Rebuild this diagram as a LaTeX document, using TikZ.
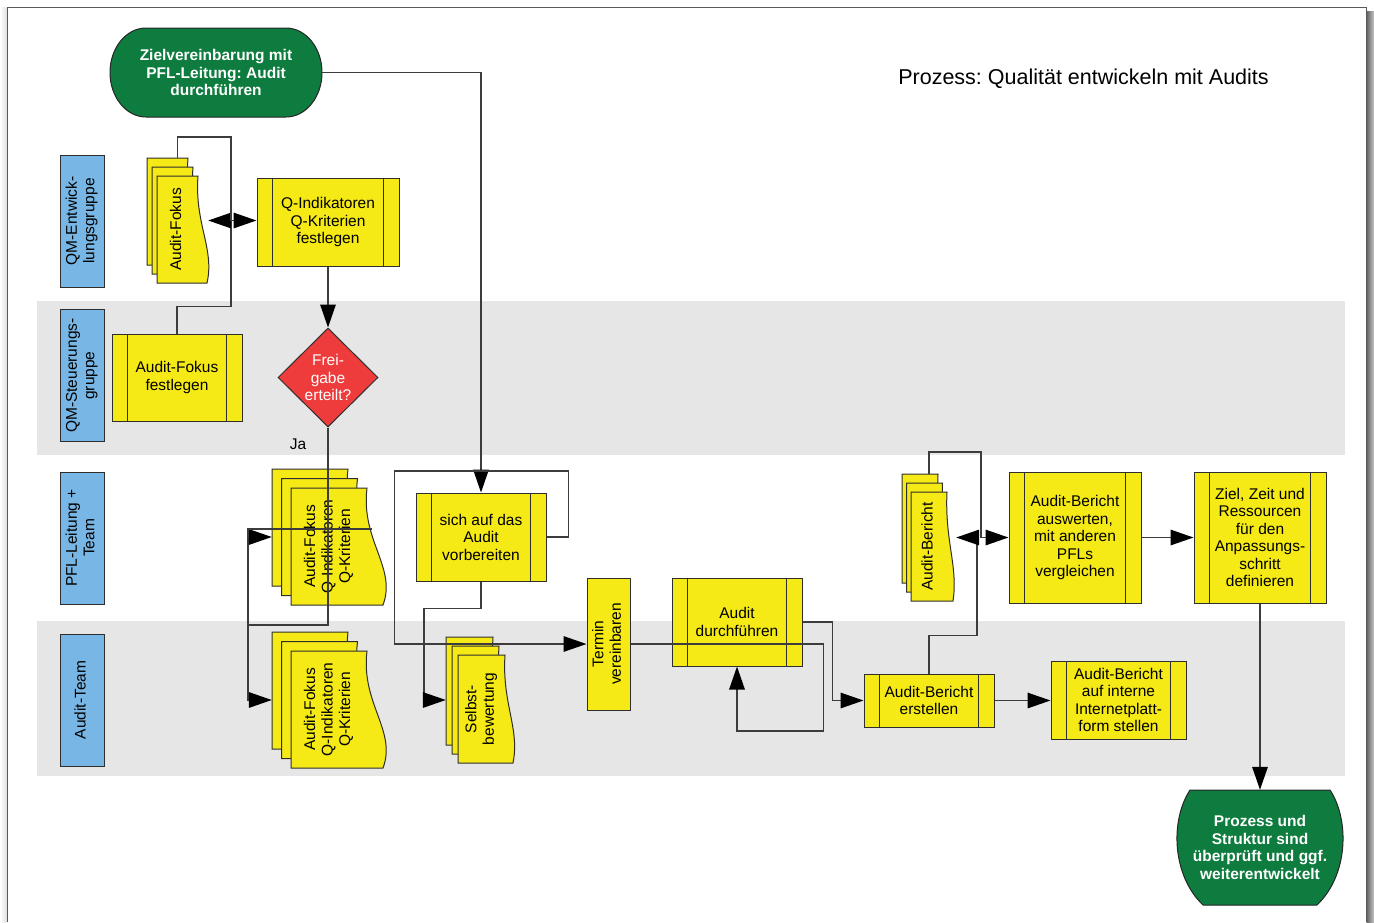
\documentclass[tikz,border=0pt]{standalone}
\usepackage{graphicx}
\usepackage{fontspec}
\setmainfont{Liberation Sans}
\usetikzlibrary{arrows.meta,shapes.geometric,calc}
\frenchspacing

\definecolor{boxyellow}{HTML}{F5EA16}
\definecolor{termgreen}{HTML}{0E7C3E}
\definecolor{diared}{HTML}{EE3C3C}
\definecolor{laneblue}{HTML}{78B7E5}
\definecolor{bandgray}{HTML}{E6E6E6}
\definecolor{linegray}{HTML}{3C3C3C}
\definecolor{edgegray}{HTML}{2E2E2E}

% vertical (rotated) multi-line text
\newcommand{\rotlines}[1]{\rotatebox{90}{\begin{tabular}{@{}c@{}}#1\end{tabular}}}

% one document sheet, lying on its side: x0, y0, width, height, wave offset
\newcommand{\docsheet}[5]{%
  \filldraw[sheet] ({#1},{#2}) -- ({#1+#3},{#2})
    .. controls ({#1+#3-0.4*#5},{#2+0.45*#4}) and ({#1+#3+1.875*#5},{#2+0.68*#4}) .. ({#1+#3+#5},{#2+#4})
    -- ({#1},{#2+#4}) -- cycle;}
% a stack of three sheets: x0, y0, width, height, wave offset, dx, dy
\newcommand{\docstack}[7]{%
  \docsheet{#1}{#2}{#3}{#4}{#5}%
  \docsheet{#1+#6}{#2+#7}{#3}{#4}{#5}%
  \docsheet{#1+2*#6}{#2+2*#7}{#3}{#4}{#5}}

\tikzset{
  txt/.style={font=\fontsize{15.5}{17.5}\selectfont},
  proc/.style={txt, rectangle, draw=edgegray, fill=boxyellow, line width=1pt,
    inner sep=0pt, align=center,
    path picture={\draw[edgegray, line width=1pt]
      ([xshift=15.5pt]path picture bounding box.north west) -- ([xshift=15.5pt]path picture bounding box.south west)
      ([xshift=-15.5pt]path picture bounding box.north east) -- ([xshift=-15.5pt]path picture bounding box.south east);}},
  plainbox/.style={txt, rectangle, draw=edgegray, fill=boxyellow, line width=1pt, inner sep=0pt, align=center},
  lanelabel/.style={txt, rectangle, draw=edgegray, fill=laneblue, line width=1pt, inner sep=0pt,
    minimum width=44pt, minimum height=132pt},
  sheet/.style={draw=edgegray, fill=boxyellow, line width=1pt},
  stackbox/.style={rectangle, inner sep=0pt, draw=none},
  doctext/.style={txt, inner sep=0pt},
  termtext/.style={font=\bfseries\fontsize{15.5}{17.5}\selectfont, text=white, align=center, inner sep=0pt},
  termshape/.style={fill=termgreen, draw=black!85, line width=1pt},
  band/.style={fill=bandgray, draw=none},
  conn/.style={draw=linegray, line width=1.5pt},
  arr/.style={conn, -{Triangle[length=23pt,width=15.5pt,color=black]}},
}

\begin{document}
\begin{tikzpicture}[x=1pt,y=-1pt]
\useasboundingbox (0,0) rectangle (1374,922);

% sheet of paper with its shadow
\fill[white] (0,0) rectangle (1374,922);
\shade[left color=white, right color=black!12] (0,7) rectangle (6.5,922);
\shade[left color=black!62, right color=black!22] (1366.5,11) rectangle (1374,922);
\fill[white] (7,7) rectangle (1366,922);
\draw[black!65, line width=1pt] (7,922) -- (7,7) -- (1366,7) -- (1366,922);

% swimlane bands
\fill[band] (37,301) rectangle (1345,455);
\fill[band] (37,621) rectangle (1345,776);

% lane labels
\node[lanelabel] (lane1) at (82,221) {\rotlines{QM-Entwick-\\lungsgruppe}};
\node[lanelabel] (lane2) at (82,375.5) {\rotlines{QM-Steuerungs-\\gruppe}};
\node[lanelabel] (lane3) at (82,538) {\rotlines{PFL-Leitung +\\Team}};
\node[lanelabel] (lane4) at (82,700) {\rotlines{Audit-Team}};

% title
\node[font=\fontsize{21.5}{25}\selectfont, inner sep=0pt] (title) at (1083.5,79) {Prozess: Qualität entwickeln mit Audits};

% start terminal
\coordinate (startc) at (216,72.5);
\filldraw[termshape] ($(startc)+(-70,-44.5)$) -- ($(startc)+(70,-44.5)$)
  arc[start angle=90, end angle=-90, x radius=36pt, y radius=44.5pt]
  -- ($(startc)+(-70,44.5)$)
  arc[start angle=270, end angle=90, x radius=36pt, y radius=44.5pt] -- cycle;
\node[termtext, minimum width=212pt, minimum height=89pt] (start) at (startc)
  {Zielvereinbarung mit\\PFL-Leitung: Audit\\durchführen};

% end terminal
\coordinate (finishc) at (1260,847.5);
\filldraw[termshape] ($(finishc)+(-70,-57.5)$) -- ($(finishc)+(70,-57.5)$)
  .. controls ($(finishc)+(90,-27)$) and ($(finishc)+(88,28)$) .. ($(finishc)+(57,57.5)$)
  -- ($(finishc)+(-57,57.5)$)
  .. controls ($(finishc)+(-88,28)$) and ($(finishc)+(-90,-27)$) .. ($(finishc)+(-70,-57.5)$) -- cycle;
\node[termtext, minimum width=164pt, minimum height=115pt] (finish) at (finishc)
  {Prozess und\\Struktur sind\\überprüft und ggf.\\weiterentwickelt};

% process steps
\node[proc, minimum width=142pt, minimum height=88pt] (qik) at (328,222) {Q-Indikatoren\\Q-Kriterien\\festlegen};
\node[proc, minimum width=130pt, minimum height=87pt] (afl) at (177,377.5) {Audit-Fokus\\festlegen};
\node[proc, minimum width=130pt, minimum height=88pt] (vorb) at (481,537) {sich auf das\\Audit\\vorbereiten};
\node[plainbox, minimum width=43pt, minimum height=132pt] (termin) at (608.5,644) {\rotlines{Termin\\vereinbaren}};
\node[proc, minimum width=130pt, minimum height=88pt] (durch) at (737,622) {Audit\\durchführen};
\node[proc, minimum width=130pt, minimum height=53pt] (erst) at (929,700.5) {Audit-Bericht\\erstellen};
\node[proc, minimum width=135pt, minimum height=78pt] (intern) at (1118.5,700) {Audit-Bericht\\auf interne\\Internetplatt-\\form stellen};
\node[proc, minimum width=132pt, minimum height=131pt] (ausw) at (1075,537.5) {Audit-Bericht\\auswerten,\\mit anderen\\PFLs\\vergleichen};
\node[proc, minimum width=132pt, minimum height=131pt] (ziel) at (1260,537.5) {Ziel, Zeit und\\Ressourcen\\für den\\Anpassungs-\\schritt\\definieren};

% decision
\node[diamond, draw=edgegray, fill=diared, line width=1pt, minimum width=100pt, minimum height=99pt, inner sep=0pt,
  label={[txt, text=white, align=center]center:Frei-\\gabe\\erteilt?}] (fg) at (328,377.5) {};
\node[txt, inner sep=0pt] (ja) at (298,444) {Ja};

% document stacks
\docstack{147}{158}{41}{107}{9}{5}{9}
\node[stackbox, minimum width=61pt, minimum height=125pt] (docA) at (177.5,220.5) {};
\node[doctext] (docAtext) at (177.5,229.5) {\rotlines{Audit-Fokus}};

\docstack{272}{469}{76}{117}{16}{9.5}{9.5}
\node[stackbox, minimum width=113pt, minimum height=136pt] (docB) at (328.5,537) {};
\node[doctext] (docBtext) at (329,546.5) {\rotlines{Audit-Fokus\\Q-Indikatoren\\Q-Kriterien}};

\docstack{272}{632}{76}{117}{16}{9.5}{9.5}
\node[stackbox, minimum width=113pt, minimum height=136pt] (docC) at (328.5,700) {};
\node[doctext] (docCtext) at (329,709.5) {\rotlines{Audit-Fokus\\Q-Indikatoren\\Q-Kriterien}};

\docstack{446}{637}{47}{108}{8}{6}{9}
\node[stackbox, minimum width=69pt, minimum height=126pt] (docD) at (480.5,700) {};
\node[doctext] (docDtext) at (481.5,709) {\rotlines{Selbst-\\bewertung}};

\docstack{902}{474}{36}{109}{6}{4.5}{9}
\node[stackbox, minimum width=54pt, minimum height=127pt] (docE) at (929,537.5) {};
\node[doctext] (docEtext) at (929,546.5) {\rotlines{Audit-Bericht}};

% connectors
\draw[arr] (start.east) -| (vorb.north);

\draw[conn] (afl.north) -- ++(0,-27) -| ($(docA.east)+(23,0)$);
\draw[arr] ($(docA.east)+(23,0)$) -- (docA.east);
\draw[conn] (docA.north) -- ++(0,-21) -| ($(docA.east)+(23,0)$);
\draw[arr] ($(docA.east)+(23,0)$) -- (qik.west |- docA.east);

\draw[arr] (qik.south) -- (fg.north);

\coordinate (jB) at (248,625);
\draw[conn] (fg.south) |- (jB);
\draw[arr] (jB) |- (docB.west);
\draw[conn] (jB |- docB.west) -- ++(0,-8) -- ++(124,0);
\draw[arr] (jB) |- (docC.west);

\draw[arr] (vorb.south) -- ++(0,27) -- ++(-57,0) |- (docD.west);
\draw[arr] (vorb.east) -- ++(22,0) -- ++(0,-66) -- ++(-174,0) |- (termin.west);
\draw[arr] (termin.east) -- ++(193,0) -- ++(0,87) -| (durch.south);
\draw[arr] (durch.east) -- ++(30,0) |- (erst.west);

\draw[conn] (erst.north) -- ++(0,-38) -| ($(docE.east)+(21,0)$);
\draw[arr] ($(docE.east)+(21,0)$) -- (docE.east);
\draw[conn] (docE.north) -- ++(0,-22) -| ($(docE.east)+(25,0)$);
\draw[arr] ($(docE.east)+(25,0)$) -- (ausw.west |- docE.east);

\draw[arr] (erst.east) -- (intern.west |- erst.east);
\draw[arr] (ausw.east) -- (ziel.west);
\draw[arr] (ziel.south) -- (finish.north);
\end{tikzpicture}
\end{document}
